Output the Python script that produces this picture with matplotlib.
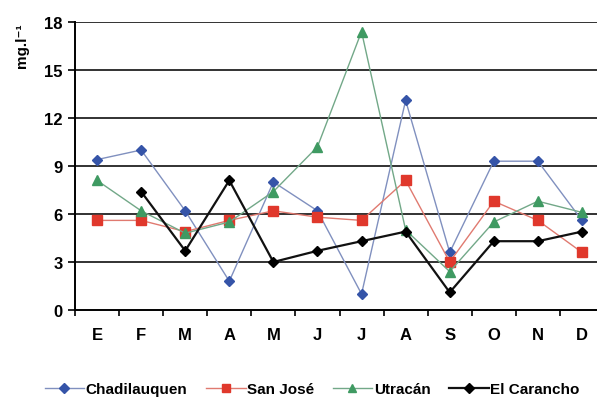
import matplotlib
matplotlib.use("Agg")
import matplotlib.pyplot as plt
import numpy as np

plt.rcParams["font.family"] = ["Liberation Sans", "DejaVu Sans"]
plt.rcParams["font.weight"] = "bold"

meses = ["E", "F", "M", "A", "M", "J", "J", "A", "S", "O", "N", "D"]

chadilauquen = [9.4, 10.0, 6.2, 1.8, 8.0, 6.2, 1.0, 13.1, 3.6, 9.3, 9.3, 5.6]
san_jose = [5.6, 5.6, 4.9, 5.6, 6.2, 5.8, 5.6, 8.1, 3.0, 6.8, 5.6, 3.6]
utracan = [8.1, 6.2, 4.8, 5.5, 7.4, 10.2, 17.4, 5.0, 2.4, 5.5, 6.8, 6.1]
el_carancho = [np.nan, 7.4, 3.7, 8.1, 3.0, 3.7, 4.3, 4.9, 1.1, 4.3, 4.3, 4.9]

series = [
    ("Chadilauquen", chadilauquen, "#8090bf", "#3554a8", "D", 5.5, 1.0),
    ("San José", san_jose, "#e07a70", "#e0382c", "s", 7.5, 1.0),
    ("Utracán", utracan, "#72a888", "#3f9a62", "^", 7, 1.0),
    ("El Carancho", el_carancho, "#111111", "#000000", "D", 5.5, 1.6),
]

fig = plt.figure(figsize=(5.97, 4.02), dpi=100)
ax = fig.add_axes([75 / 597, 91 / 402, 529 / 597, 288 / 402])

x = np.arange(len(meses))
for nombre, vals, lc, mc, mk, ms, lw in series:
    ax.plot(x, vals, color=lc, lw=lw, marker=mk, ms=ms,
            mfc=mc, mec=mc, label=nombre)

ax.set_ylim(0, 18)
ax.set_xlim(-0.5, len(meses) - 0.5)
ax.set_yticks(np.arange(0, 19, 3))
for v in np.arange(3, 19, 3):
    ax.axhline(v, color="#222222", lw=1.3, zorder=0)

# ticks entre categorias, etiquetas en el centro
ax.set_xticks(np.arange(-0.5, len(meses), 1))
ax.set_xticklabels([])
ax.set_xticks(x, minor=True)
ax.set_xticklabels(meses, minor=True, fontsize=12, fontweight="bold")
ax.tick_params(axis="x", which="major", direction="out", length=4, width=1.2)
ax.tick_params(axis="x", which="minor", length=0, pad=12)
ax.tick_params(axis="y", direction="out", length=5, width=1.2, pad=4,
               labelsize=12)
for lbl in ax.get_yticklabels():
    lbl.set_fontweight("bold")

for s in ["top", "right"]:
    ax.spines[s].set_visible(False)
ax.spines["left"].set_linewidth(1.4)
ax.spines["bottom"].set_linewidth(1.4)

fig.text(22 / 597, 1 - 46 / 402, "mg.l\u207b\u00b9", rotation=90,
         ha="center", va="center", fontsize=11, fontweight="bold")

ax.legend(loc="center", bbox_to_anchor=(312 / 597, 1 - 390 / 402),
          bbox_transform=fig.transFigure, ncol=4, frameon=False,
          fontsize=11, handlelength=2.6, handletextpad=0.1,
          columnspacing=1.2, borderaxespad=0, markerscale=0.85)

fig.savefig("out.png", dpi=100)
